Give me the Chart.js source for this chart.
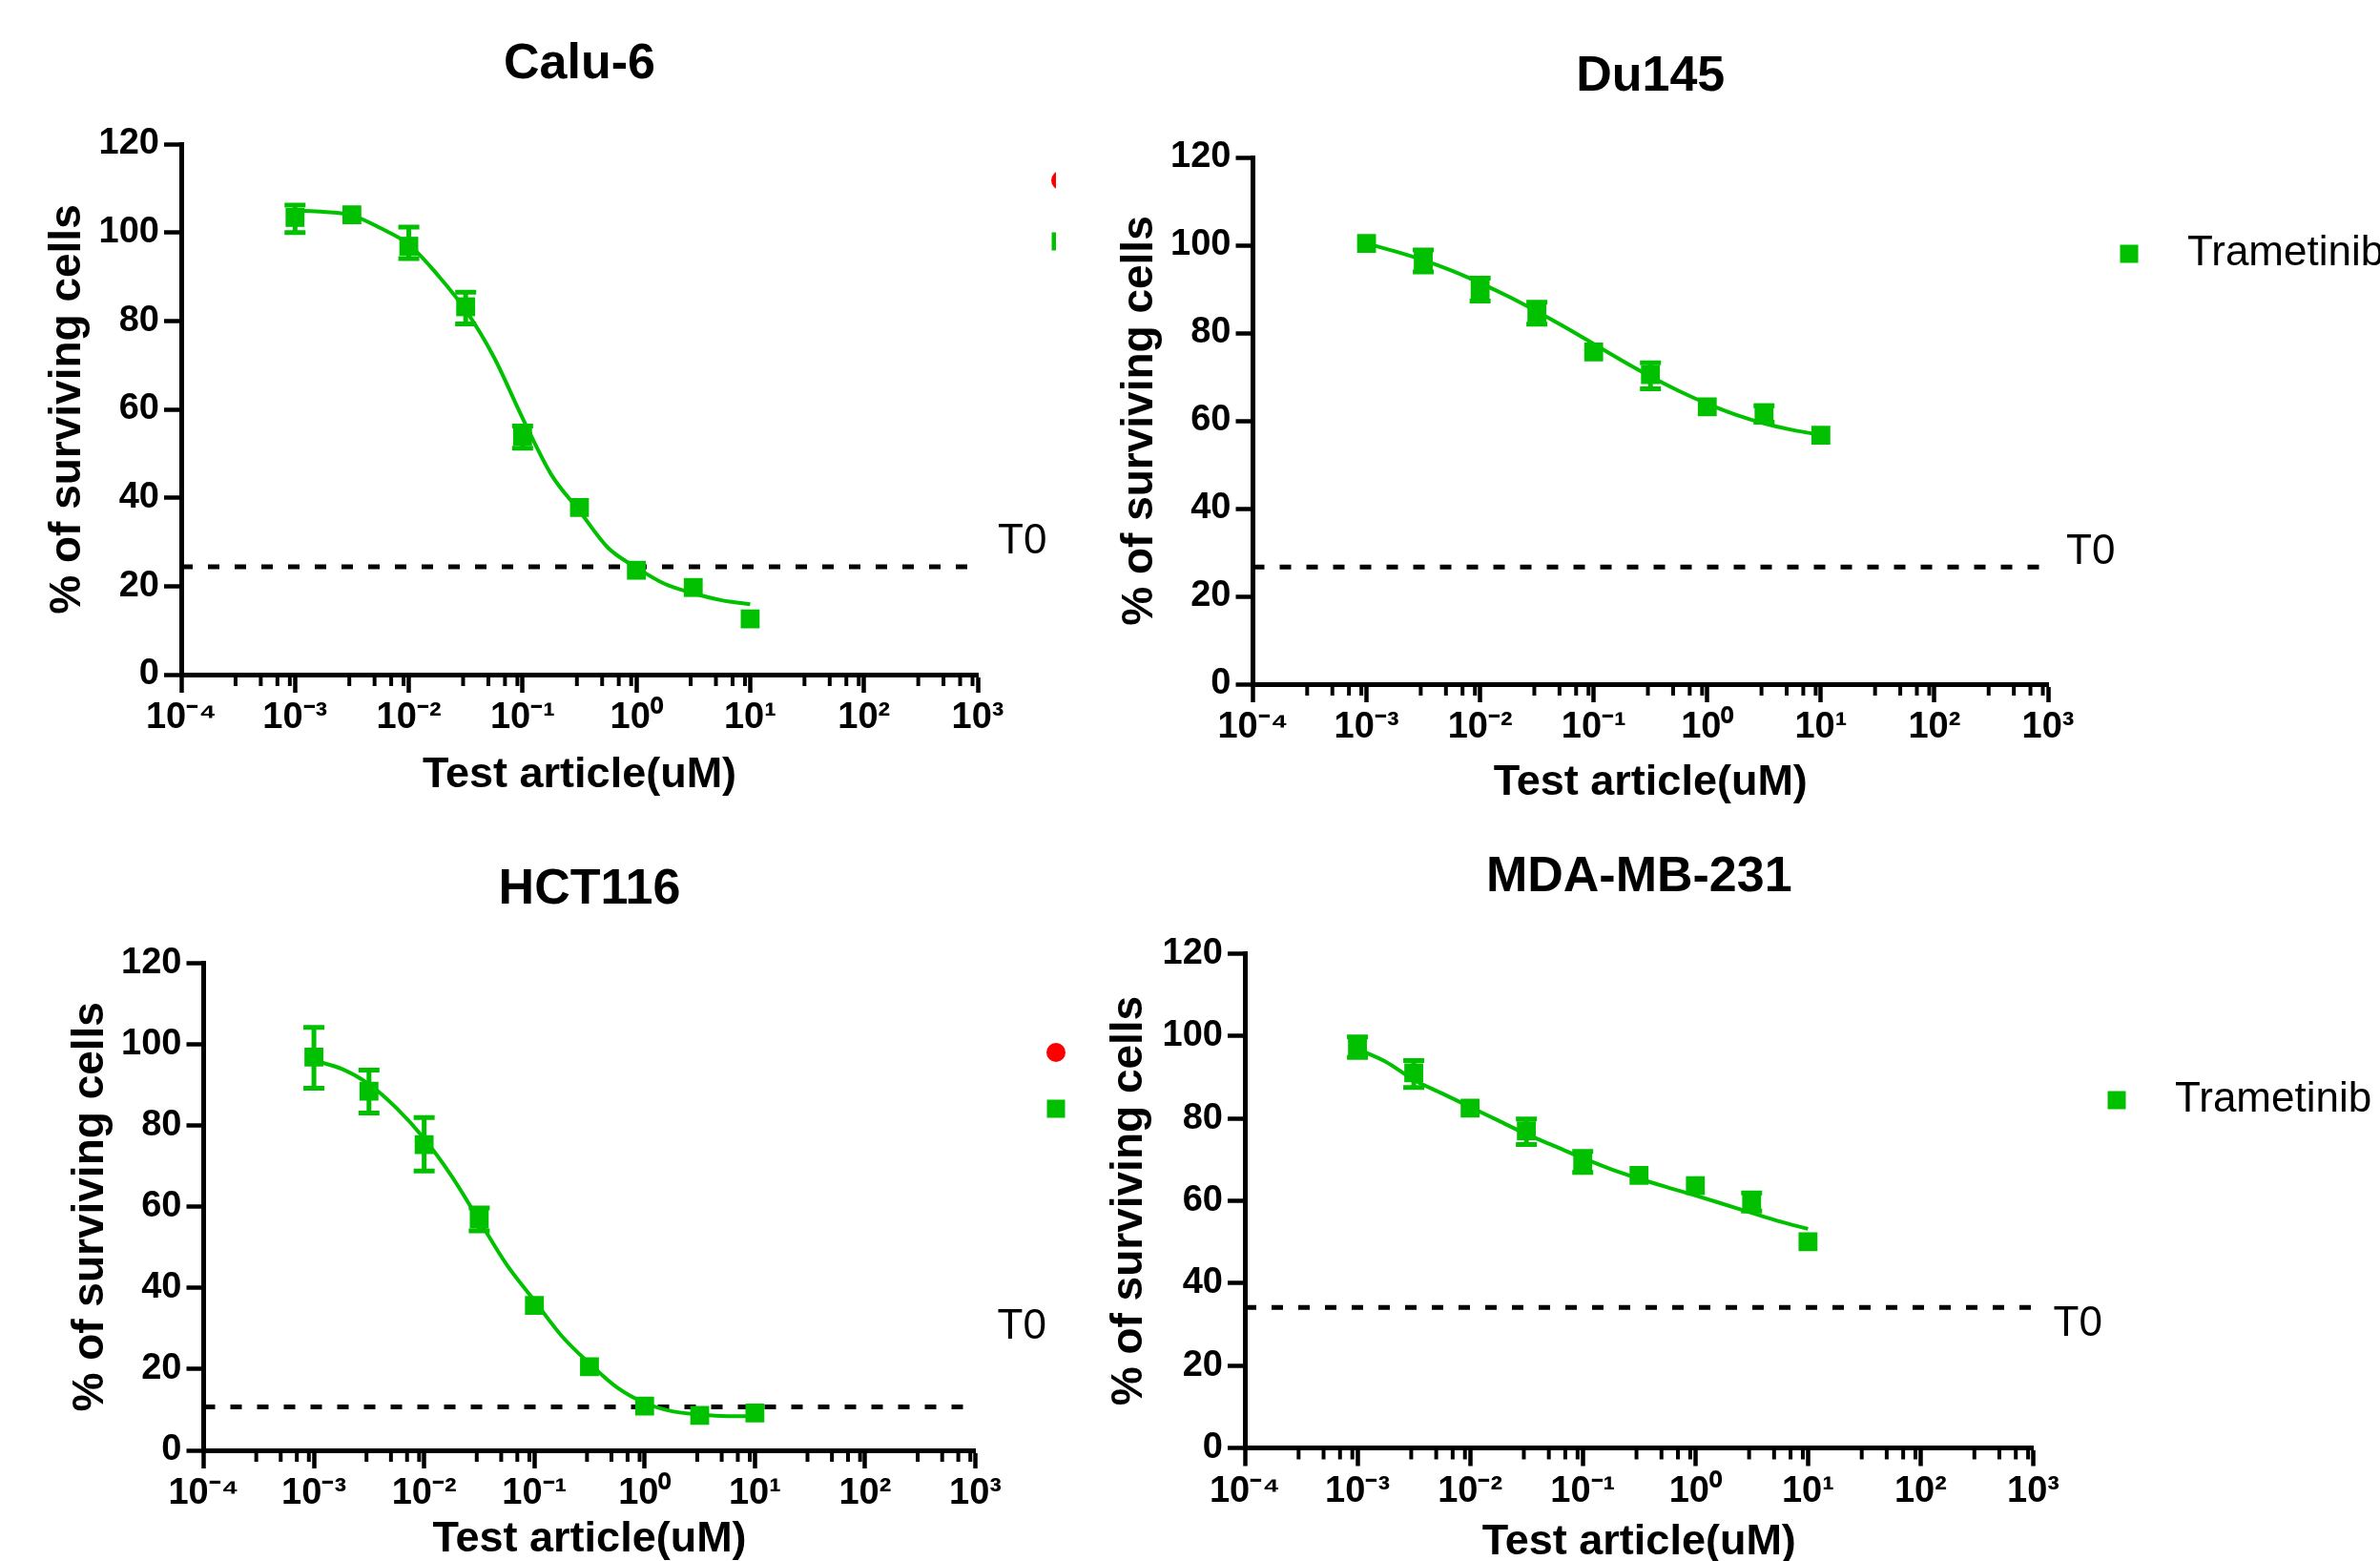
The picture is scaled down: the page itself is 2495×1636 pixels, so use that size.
<!DOCTYPE html>
<html>
<head>
<meta charset="utf-8">
<title>Trametinib dose response</title>
<script src="https://cdn.jsdelivr.net/npm/chart.js@4.4.1/dist/chart.umd.min.js"></script>
<style>
  html, body { margin: 0; padding: 0; background: #fff; width: 2495px; height: 1636px; overflow: hidden; }
  canvas { position: absolute; }
</style>
</head>
<body>
<canvas id="calu6"></canvas>
<canvas id="du145"></canvas>
<canvas id="hct116"></canvas>
<canvas id="mda231"></canvas>
<script>
// concentrations tested (uM), half-log dilutions
const concentrations = [0.001, 0.00316, 0.01, 0.0316, 0.1, 0.316, 1, 3.16, 10];
// x positions of the fitted curve (quarter-log steps)
const fitConc = [0.001, 0.00178, 0.00316, 0.00562, 0.01, 0.0178, 0.0316, 0.0562, 0.1,
                 0.178, 0.316, 0.562, 1, 1.78, 3.16, 5.62, 10];

const xTickValues = [0.0001, 0.001, 0.01, 0.1, 1, 10, 100, 1000];
const xTickLabels = ['10\u207B\u2074', '10\u207B\u00B3', '10\u207B\u00B2', '10\u207B\u00B9',
                     '10\u2070', '10\u00B9', '10\u00B2', '10\u00B3'];
const yTickValues = [0, 20, 40, 60, 80, 100, 120];

// Calu-6
const calu6Mean = [103.4, 104.0, 96.9, 83.2, 53.9, 37.8, 23.6, 19.7, 12.6];
const calu6Low  = [100.0, null, 94.1, 79.3, 51.2, null, null, null, null];
const calu6High = [106.2, null, 101.2, 86.5, 56.2, null, null, null, null];
const calu6Fit  = [105.0, 104.7, 103.9, 101.0, 97.3, 90.5, 82.4, 71.7, 58.0,
                   45.3, 37.0, 28.7, 24.2, 20.5, 18.4, 16.8, 15.9];
const calu6T0 = 24.4;

// Du145
const du145Mean = [100.4, 96.5, 90.0, 84.6, 75.7, 70.5, 63.2, 61.8, 56.7];
const du145Low  = [null, 93.9, 87.3, 82.0, null, 67.3, null, 59.7, null];
const du145High = [null, 98.9, 92.5, 87.0, null, 73.2, null, 63.4, null];
const du145Fit  = [100.4, 98.6, 96.6, 94.2, 91.4, 88.3, 84.9, 81.3, 77.5,
                   73.7, 70.1, 66.8, 63.9, 61.4, 59.4, 57.9, 56.8];
const du145T0 = 26.7;

// HCT116
const hct116Mean = [96.9, 88.5, 75.3, 57.0, 35.7, 20.6, 10.9, 8.6, 9.2];
const hct116Low  = [89.2, 83.1, 68.8, 54.1, null, null, null, null, null];
const hct116High = [104.2, 93.7, 82.0, 59.7, null, null, null, null, null];
const hct116Fit  = [96.1, 94.0, 90.2, 84.3, 76.8, 67.5, 56.6, 45.7, 36.9,
                    28.1, 21.4, 15.5, 11.7, 9.6, 8.8, 8.4, 8.4];
const hct116T0 = 10.7;

// MDA-MB-231
const mda231Mean = [97.4, 91.1, 82.5, 77.0, 69.5, 66.2, 63.7, 59.8, 50.1];
const mda231Low  = [94.8, 87.5, null, 73.7, 66.9, null, null, 57.5, null];
const mda231High = [99.8, 94.1, null, 79.9, 72.0, null, null, 61.9, null];
const mda231Fit  = [96.9, 93.8, 89.4, 86.1, 82.8, 79.5, 76.2, 73.3, 70.4,
                    67.7, 65.4, 63.3, 61.3, 59.2, 57.1, 55.0, 53.2];
const mda231T0 = 34.1;

const GREEN = '#00c000';
const RED = '#ff0000';
const FONT = '"Liberation Sans", Arial, Helvetica, sans-serif';

// layout of each panel on the page
const panels = [
  { id: 'calu6', title: 'Calu-6', mean: calu6Mean, low: calu6Low, high: calu6High, fit: calu6Fit, t0: calu6T0,
    box: [0, 0, 1107, 850], pad: { left: 43.4, right: 82 }, yWidth: 146.6, xHeight: 143,
    titlePad: { top: 36.8, bottom: 51.8 }, xTitlePad: 10, t0Dx: 21, t0Dy: -26,
    legend: { x: 1112, y: 189, gap: 64 }, withRed: true },
  { id: 'du145', title: 'Du145', mean: du145Mean, low: du145Low, high: du145High, fit: du145Fit, t0: du145T0,
    box: [1107, 0, 1388, 850], pad: { left: 60.4, right: 348 }, yWidth: 146.1, xHeight: 133,
    titlePad: { top: 49.8, bottom: 52.8 }, xTitlePad: 2, t0Dx: 19, t0Dy: -15,
    legend: { x: 1125, y: 266, gap: 0 }, withRed: false },
  { id: 'hct116', title: 'HCT116', mean: hct116Mean, low: hct116Low, high: hct116High, fit: hct116Fit, t0: hct116T0,
    box: [0, 850, 1125, 800], pad: { left: 67.8, right: 102.5 }, yWidth: 145.7, xHeight: 130,
    titlePad: { top: 51.8, bottom: 45.4 }, xTitlePad: 9, t0Dx: 23, t0Dy: -84,
    legend: { x: 1107, y: 253, gap: 59 }, withRed: true },
  { id: 'mda231', title: 'MDA-MB-231', mean: mda231Mean, low: mda231Low, high: mda231High, fit: mda231Fit, t0: mda231T0,
    box: [1125, 850, 1370, 800], pad: { left: 31.4, right: 363.5 }, yWidth: 148.6, xHeight: 132.5,
    titlePad: { top: 38.8, bottom: 48.4 }, xTitlePad: 6, t0Dx: 21, t0Dy: 18,
    legend: { x: 1094, y: 303, gap: 0 }, withRed: false }
];

// error bars, minor log ticks, T0 label and legend markers
const doseExtras = {
  id: 'doseExtras',
  afterDatasetsDraw(chart, args, opts) {
    const ctx = chart.ctx;
    const xs = chart.scales.x, ys = chart.scales.y;
    ctx.save();
    ctx.strokeStyle = GREEN;
    ctx.lineWidth = 5;
    concentrations.forEach((c, i) => {
      if (opts.low[i] == null) return;
      const x = xs.getPixelForValue(c);
      const yLo = ys.getPixelForValue(opts.low[i]);
      const yHi = ys.getPixelForValue(opts.high[i]);
      ctx.beginPath();
      ctx.moveTo(x, yLo); ctx.lineTo(x, yHi);
      ctx.moveTo(x - 11, yLo); ctx.lineTo(x + 11, yLo);
      ctx.moveTo(x - 11, yHi); ctx.lineTo(x + 11, yHi);
      ctx.stroke();
    });
    ctx.restore();
  },
  afterDraw(chart, args, opts) {
    const ctx = chart.ctx;
    const xs = chart.scales.x, ys = chart.scales.y;
    const area = chart.chartArea;
    ctx.save();

    // minor ticks inside each decade
    ctx.strokeStyle = '#000';
    ctx.lineWidth = 4;
    for (let i = 0; i < xTickValues.length - 1; i++) {
      [3, 5, 7, 9].forEach(m => {
        const x = xs.getPixelForValue(xTickValues[i] * m);
        ctx.beginPath();
        ctx.moveTo(x, area.bottom);
        ctx.lineTo(x, area.bottom + 12);
        ctx.stroke();
      });
    }

    // T0 label next to the dashed line
    ctx.fillStyle = '#000';
    ctx.font = '44px ' + FONT;
    ctx.textBaseline = 'middle';
    ctx.textAlign = 'left';
    ctx.fillText('T0', area.right + opts.t0Dx, ys.getPixelForValue(opts.t0) + opts.t0Dy);

    // legend
    let ly = opts.legend.y;
    chart.data.datasets.forEach(ds => {
      if (!ds.inLegend) return;
      const lx = opts.legend.x;
      ctx.fillStyle = ds.backgroundColor;
      ctx.beginPath();
      if (ds.pointStyle === 'circle') ctx.arc(lx, ly, 10, 0, Math.PI * 2);
      else ctx.rect(lx - 9.5, ly - 9.5, 19, 19);
      ctx.fill();
      ctx.fillStyle = '#000';
      ctx.fillText(ds.label, lx + 61, ly);
      ly += opts.legend.gap;
    });
    ctx.restore();
  }
};

function makeChart(p) {
  const canvas = document.getElementById(p.id);
  canvas.width = p.box[2];
  canvas.height = p.box[3];
  canvas.style.left = p.box[0] + 'px';
  canvas.style.top = p.box[1] + 'px';
  canvas.style.width = p.box[2] + 'px';
  canvas.style.height = p.box[3] + 'px';

  const datasets = [
    {
      label: 'Trametinib',
      data: concentrations.map((c, i) => ({ x: c, y: p.mean[i] })),
      pointStyle: 'rect',
      pointRadius: 14,
      pointBorderWidth: 0,
      backgroundColor: GREEN,
      borderColor: GREEN,
      showLine: false,
      inLegend: true
    },
    {
      label: 'fit',
      data: fitConc.map((c, i) => ({ x: c, y: p.fit[i] })),
      showLine: true,
      pointRadius: 0,
      borderColor: GREEN,
      borderWidth: 4,
      cubicInterpolationMode: 'monotone'
    },
    {
      label: 'T0',
      data: [{ x: xTickValues[0], y: p.t0 }, { x: xTickValues[xTickValues.length - 1], y: p.t0 }],
      showLine: true,
      pointRadius: 0,
      borderColor: '#000',
      borderWidth: 5,
      borderDash: [12, 16]
    }
  ];
  if (p.withRed) {
    // second compound: only its legend marker is visible
    datasets.unshift({
      label: '',
      data: [],
      pointStyle: 'circle',
      backgroundColor: RED,
      borderColor: RED,
      inLegend: true
    });
  }

  return new Chart(canvas, {
    type: 'scatter',
    data: { datasets: datasets },
    options: {
      responsive: false,
      animation: false,
      devicePixelRatio: 1,
      layout: { padding: { left: p.pad.left, right: p.pad.right, top: 0, bottom: 0 } },
      plugins: {
        legend: { display: false },
        tooltip: { enabled: false },
        title: {
          display: true,
          text: p.title,
          fullSize: false,
          color: '#000',
          font: { family: FONT, size: 52, weight: 'bold', lineHeight: 1.2 },
          padding: p.titlePad
        },
        doseExtras: {
          low: p.low, high: p.high, t0: p.t0,
          t0Dx: p.t0Dx, t0Dy: p.t0Dy, legend: p.legend
        }
      },
      scales: {
        x: {
          type: 'logarithmic',
          min: xTickValues[0],
          max: xTickValues[xTickValues.length - 1],
          afterBuildTicks: s => { s.ticks = xTickValues.map(v => ({ value: v })); },
          afterFit: s => { s.height = p.xHeight; },
          ticks: {
            autoSkip: false,
            maxRotation: 0,
            padding: 4,
            color: '#000',
            font: { family: FONT, size: 38, weight: 'bold' },
            callback: (v, i) => xTickLabels[i]
          },
          grid: { drawOnChartArea: false, drawTicks: true, tickLength: 19, tickWidth: 4.5, tickColor: '#000' },
          border: { display: true, color: '#000', width: 5 },
          title: {
            display: true,
            text: 'Test article(uM)',
            color: '#000',
            font: { family: FONT, size: 45, weight: 'bold', lineHeight: 1.2 },
            padding: { top: 0, bottom: p.xTitlePad }
          }
        },
        y: {
          min: yTickValues[0],
          max: yTickValues[yTickValues.length - 1],
          afterBuildTicks: s => { s.ticks = yTickValues.map(v => ({ value: v })); },
          afterFit: s => { s.width = p.yWidth; },
          ticks: {
            padding: 5,
            color: '#000',
            font: { family: FONT, size: 38, weight: 'bold' }
          },
          grid: { drawOnChartArea: false, drawTicks: true, tickLength: 18, tickWidth: 4.5, tickColor: '#000' },
          border: { display: true, color: '#000', width: 5 },
          title: {
            display: true,
            text: '% of surviving cells',
            color: '#000',
            font: { family: FONT, size: 46, weight: 'bold', lineHeight: 1.2 },
            padding: { top: 0, bottom: 0 }
          }
        }
      }
    },
    plugins: [doseExtras]
  });
}

panels.forEach(makeChart);
</script>
</body>
</html>
